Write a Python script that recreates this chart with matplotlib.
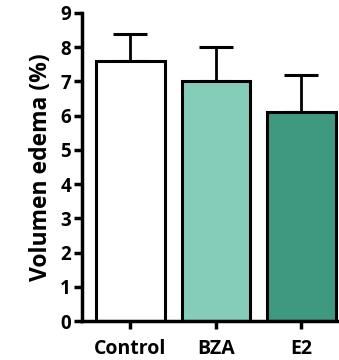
import matplotlib
matplotlib.use('Agg')
import matplotlib.pyplot as plt

plt.rcParams['font.family'] = ['Open Sans', 'DejaVu Sans']
plt.rcParams['font.weight'] = 'bold'

groups = ['Control', 'BZA', 'E2']
means = [7.6, 7.0, 6.1]
sem = [0.8, 1.0, 1.1]
colors = ['#ffffff', '#86cdb9', '#3f9880']

fig = plt.figure(figsize=(3.39, 3.60), dpi=100)
ax = fig.add_axes([0.242, 0.108, 0.758, 0.856])

x = range(len(groups))
ax.bar(x, means, width=0.8, color=colors, edgecolor='black', linewidth=2.2, zorder=2)
ax.errorbar(x, means, yerr=[[0, 0, 0], sem], fmt='none', ecolor='black',
            elinewidth=2, capsize=12, capthick=2.2, zorder=1)

ax.set_ylim(0, 9)
ax.set_xlim(-0.567, 2.44)
ax.set_yticks(range(10))
ax.set_xticks(list(x))
ax.set_xticklabels(groups, fontsize=14, fontweight='bold')
ax.tick_params(axis='y', labelsize=13.5, width=2.5, length=6, pad=2)
ax.tick_params(axis='x', width=2.5, length=6, pad=7)
for lbl in ax.get_yticklabels():
    lbl.set_fontweight('bold')
ax.set_ylabel('Volumen edema (%)', fontsize=16.5, fontweight='bold', labelpad=5)

ax.spines['top'].set_visible(False)
ax.spines['right'].set_visible(False)
ax.spines['left'].set_linewidth(2.5)
ax.spines['bottom'].set_linewidth(2.5)

fig.savefig('out.png', dpi=100)
